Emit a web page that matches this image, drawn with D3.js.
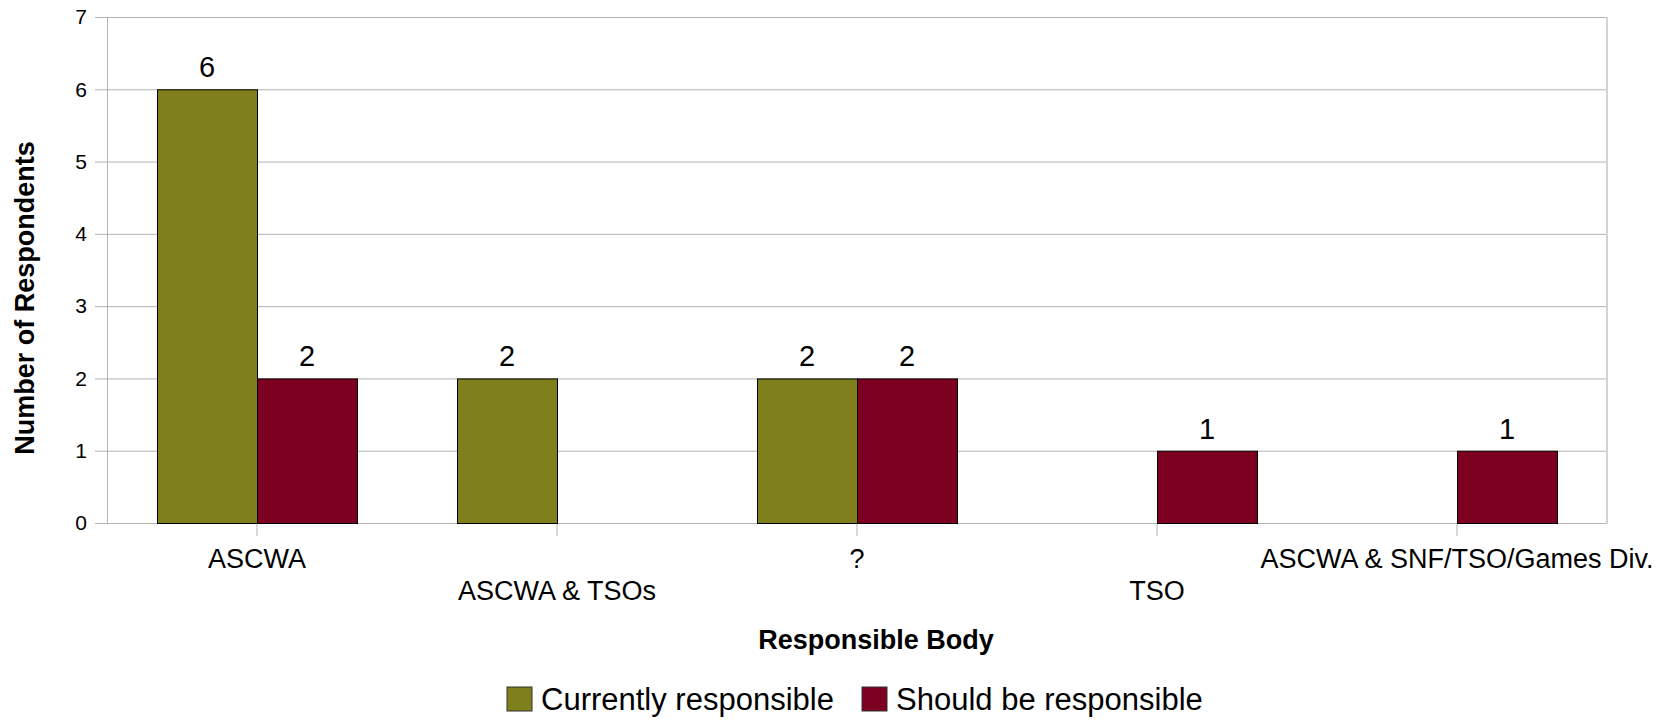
<!DOCTYPE html>
<html>
<head>
<meta charset="utf-8">
<script src="https://cdn.jsdelivr.net/npm/d3@7"></script>
<style>
body{margin:0;background:#fff;}
svg text{font-family:"Liberation Sans",Arial,sans-serif;fill:#000;}
</style>
</head>
<body>
<svg id="chart" width="1665" height="720"></svg>
<script>
var categories = ["ASCWA","ASCWA & TSOs","?","TSO","ASCWA & SNF/TSO/Games Div."];
var series = ["Currently responsible","Should be responsible"];
var currently = [6,2,2,0,0];
var should = [2,0,2,1,1];
var yTicks = [0,1,2,3,4,5,6,7];
var colors = ["#7f7f1c","#7e0021"];

var plotLeft = 107, plotRight = 1607, plotTop = 17, plotBottom = 523;

var svg = d3.select("#chart");

var x0 = d3.scaleBand().domain(categories).range([plotLeft,plotRight]);
var x1 = d3.scaleBand().domain(series).range([0,x0.bandwidth()]).paddingOuter(0.5);
var y = d3.scaleLinear().domain([0,7]).range([plotBottom,plotTop]);

// grid
svg.append("g")
		.selectAll("line")
		.data(yTicks)
		.enter().append("line")
		.attr("x1",plotLeft-12)
		.attr("x2",plotRight)
		.attr("y1",function(d){ return y(d)+0.5; })
		.attr("y2",function(d){ return y(d)+0.5; })
		.attr("stroke","#b3b3b3")
		.attr("stroke-width",1);

svg.append("line")
		.attr("x1",plotLeft+0.5).attr("x2",plotLeft+0.5)
		.attr("y1",plotTop).attr("y2",plotBottom)
		.attr("stroke","#b3b3b3");
svg.append("line")
		.attr("x1",plotRight).attr("x2",plotRight)
		.attr("y1",plotTop).attr("y2",plotBottom+0.5)
		.attr("stroke","#d4d4d4")
		.attr("stroke-width",2);

// y axis labels
var yAxis = d3.axisLeft(y).tickValues(yTicks).tickFormat(d3.format("d")).tickSize(0).tickPadding(20);
svg.append("g")
		.attr("transform","translate("+plotLeft+",0)")
		.call(yAxis)
		.call(function(g){ g.select(".domain").remove(); })
		.selectAll("text")
		.style("font-size","21px")
		.attr("fill","#000");

// x axis ticks + labels
var xAxis = d3.axisBottom(x0).tickSize(13).tickFormat("");
svg.append("g")
		.attr("transform","translate(0,"+plotBottom+")")
		.call(xAxis)
		.call(function(g){
			g.select(".domain").remove();
			g.selectAll(".tick line").attr("stroke","#b3b3b3");
		});

svg.append("g")
		.selectAll("text")
		.data(categories)
		.enter().append("text")
		.attr("x",function(d){ return x0(d)+x0.bandwidth()/2; })
		.attr("y",function(d,i){ return i%2==0 ? 568 : 600; })
		.attr("text-anchor","middle")
		.style("font-size","27px")
		.text(function(d){ return d; });

// bars
var rows = categories.map(function(c,i){
	return [{cat:c,s:series[0],v:currently[i],k:0},{cat:c,s:series[1],v:should[i],k:1}];
});

var groups = svg.append("g")
		.selectAll("g")
		.data(rows)
		.enter().append("g")
		.attr("transform",function(d){ return "translate("+x0(d[0].cat)+",0)"; });

groups.selectAll("rect")
		.data(function(d){ return d.filter(function(e){ return e.v>0; }); })
		.enter().append("rect")
		.attr("x",function(d){ return x1(d.s)+0.5; })
		.attr("y",function(d){ return y(d.v)+0.5; })
		.attr("width",x1.bandwidth())
		.attr("height",function(d){ return y(0)-y(d.v); })
		.attr("fill",function(d){ return colors[d.k]; })
		.attr("stroke","#000")
		.attr("stroke-width",1);

groups.selectAll("text")
		.data(function(d){ return d.filter(function(e){ return e.v>0; }); })
		.enter().append("text")
		.attr("x",function(d){ return x1(d.s)+x1.bandwidth()/2; })
		.attr("y",function(d){ return y(d.v)-12; })
		.attr("text-anchor","middle")
		.style("font-size","29px")
		.text(function(d){ return d.v; });

// axis titles
svg.append("text")
		.attr("transform","translate(34,298) rotate(-90)")
		.attr("text-anchor","middle")
		.style("font-size","27px")
		.style("font-weight","bold")
		.text("Number of Respondents");

svg.append("text")
		.attr("x",876)
		.attr("y",649)
		.attr("text-anchor","middle")
		.style("font-size","27px")
		.style("font-weight","bold")
		.text("Responsible Body");

// legend
var legendX = [507,862];
var leg = svg.append("g")
		.selectAll("g")
		.data(series)
		.enter().append("g")
		.attr("transform",function(d,i){ return "translate("+legendX[i]+",687)"; });
leg.append("rect")
		.attr("width",25).attr("height",24)
		.attr("fill",function(d,i){ return colors[i]; })
		.attr("stroke","#333");
leg.append("text")
		.attr("x",34)
		.attr("y",23)
		.style("font-size","31px")
		.text(function(d){ return d; });
</script>
</body>
</html>
